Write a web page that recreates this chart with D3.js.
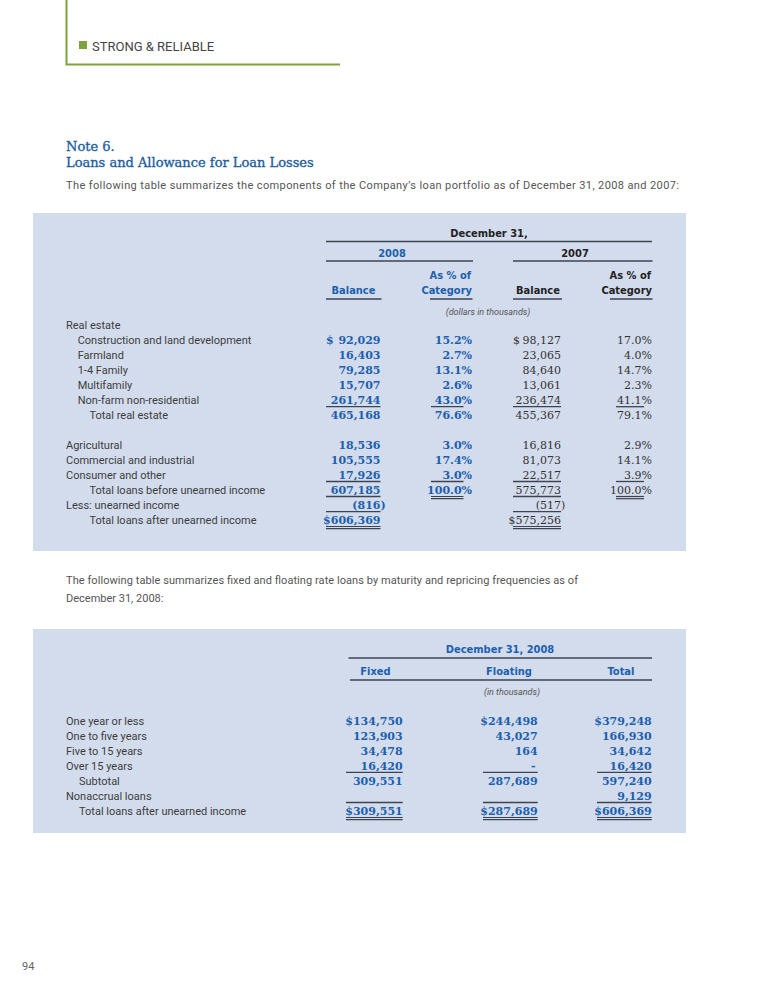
<!DOCTYPE html>
<html>
<head>
<meta charset="utf-8">
<script src="https://cdn.jsdelivr.net/npm/d3@7"></script>
<style>
  body { margin: 0; background: #fff; }
  .lbl { font-family: Roboto, "Liberation Sans", sans-serif; font-size: 11px; fill: #3c3c3c; }
  .hd { font-family: "Liberation Sans Narrow", "DejaVu Sans Condensed", sans-serif; font-weight: bold; font-size: 11px; }
  .num { font-family: "DejaVu Serif", serif; }
  .b { font-weight: bold; font-size: 11px; fill: #1c60ad; }
  .r { font-size: 11px; fill: #333; }
</style>
</head>
<body>
<script>
// ---- data: table 1 (dollars in thousands) ----
var rows1 = ["Real estate", "Construction and land development", "Farmland", "1-4 Family", "Multifamily",
  "Non-farm non-residential", "Total real estate", "", "Agricultural", "Commercial and industrial",
  "Consumer and other", "Total loans before unearned income", "Less: unearned income",
  "Total loans after unearned income"];
var indent1 = [0, 1, 1, 1, 1, 1, 2, 0, 0, 0, 0, 2, 0, 2];
var bal2008 = [null, 92029, 16403, 79285, 15707, 261744, 465168, null, 18536, 105555, 17926, 607185, -816, 606369];
var pct2008 = [null, 15.2, 2.7, 13.1, 2.6, 43.0, 76.6, null, 3.0, 17.4, 3.0, 100.0, null, null];
var bal2007 = [null, 98127, 23065, 84640, 13061, 236474, 455367, null, 16816, 81073, 22517, 575773, -517, 575256];
var pct2007 = [null, 17.0, 4.0, 14.7, 2.3, 41.1, 79.1, null, 2.9, 14.1, 3.9, 100.0, null, null];

// ---- data: table 2 (in thousands) ----
var rows2 = ["One year or less", "One to five years", "Five to 15 years", "Over 15 years", "Subtotal",
  "Nonaccrual loans", "Total loans after unearned income"];
var indent2 = [0, 0, 0, 0, 1, 0, 1];
var fixedLoans = [134750, 123903, 34478, 16420, 309551, null, 309551];
var floatingLoans = [244498, 43027, 164, 0, 287689, null, 287689];
var totalLoans = [379248, 166930, 34642, 16420, 597240, 9129, 606369];

var blue = "#1c60ad", green = "#7da33c", rule = "#3d4350";
var fmt = d3.format(",");

var svg = d3.select("body").append("svg").attr("width", 765).attr("height", 990);

// page header
svg.append("path").attr("d", "M66.5,0V64.5H340").attr("fill", "none").attr("stroke", green).attr("stroke-width", 2);
svg.append("rect").attr("x", 79).attr("y", 41).attr("width", 8).attr("height", 8).attr("fill", green);
svg.append("text").attr("class", "lbl").attr("x", 92).attr("y", 50.5).style("font-size", "13px").style("fill", "#444")
  .text("STRONG & RELIABLE");

// title
[["Note 6.", 151], ["Loans and Allowance for Loan Losses", 166.5]].forEach(function(t) {
  svg.append("text").attr("x", 66).attr("y", t[1]).attr("fill", "#1d5d9e")
    .attr("stroke", "#1d5d9e").attr("stroke-width", 0.35)
    .style("font-family", "'DejaVu Serif', serif").style("font-size", "13px").text(t[0]);
});

svg.append("text").attr("class", "lbl").attr("x", 66).attr("y", 189).style("fill", "#555")
  .attr("textLength", 613).attr("lengthAdjust", "spacing")
  .text("The following table summarizes the components of the Company\u2019s loan portfolio as of December 31, 2008 and 2007:");

// panels
svg.append("rect").attr("x", 33).attr("y", 213).attr("width", 653).attr("height", 338).attr("fill", "#d3dced");
svg.append("rect").attr("x", 33).attr("y", 629).attr("width", 653).attr("height", 204).attr("fill", "#d3dced");

function hline(x1, x2, y, w) {
  svg.append("line").attr("x1", x1).attr("x2", x2).attr("y1", y).attr("y2", y)
    .attr("stroke", rule).attr("stroke-width", w || 1.3);
}
function dline(x1, x2, y) { hline(x1, x2, y, 1.2); hline(x1, x2, y + 2.2, 1.2); }

// ---- table 1 ----
var y1 = d3.scaleLinear().domain([0, 1]).range([328.5, 343.5]);
var col1 = d3.scaleOrdinal().domain(["b08", "p08", "b07", "p07"]).range([380.5, 472, 561, 652]);
var left1 = d3.scaleOrdinal().domain(["b08", "p08", "b07", "p07"]).range([326, 431, 513, 616]);
var ulEnd1 = { b08: 380.5, p08: 463.5, b07: 561, p07: 644 };

svg.append("text").attr("class", "hd").attr("x", 489).attr("y", 237).attr("text-anchor", "middle").attr("fill", "#222").text("December 31,");
hline(326, 652, 241.5);
svg.append("text").attr("class", "hd").attr("x", 392).attr("y", 256.5).attr("text-anchor", "middle").attr("fill", blue).text("2008");
svg.append("text").attr("class", "hd").attr("x", 575).attr("y", 256.5).attr("text-anchor", "middle").attr("fill", "#222").text("2007");
hline(326, 473, 261);
hline(513, 652.5, 261);
[["b08", blue], ["p08", blue], ["b07", "#222"], ["p07", "#222"]].forEach(function(c) {
  var k = c[0];
  if (k[0] === "p") {
    svg.append("text").attr("class", "hd").attr("x", col1(k) - 1).attr("y", 279).attr("text-anchor", "end").attr("fill", c[1]).text("As % of");
    svg.append("text").attr("class", "hd").attr("x", col1(k)).attr("y", 294).attr("text-anchor", "end").attr("fill", c[1]).text("Category");
    hline(col1(k) - 42, col1(k) + 0.5, 299);
  } else {
    svg.append("text").attr("class", "hd").attr("x", k === "b08" ? 353.5 : 538).attr("y", 294).attr("text-anchor", "middle").attr("fill", c[1]).text("Balance");
    hline(left1(k), col1(k) + 1, 299);
  }
});
svg.append("text").attr("class", "lbl").attr("x", 488).attr("y", 315).attr("text-anchor", "middle")
  .style("font-size", "9px").style("font-style", "italic").style("fill", "#555").text("(dollars in thousands)");

var g1 = svg.append("g");
g1.selectAll("text.row").data(rows1).enter().append("text").attr("class", "lbl row")
  .attr("x", function(d, i) { return 66 + indent1[i] * 11.7; })
  .attr("y", function(d, i) { return y1(i); })
  .text(function(d) { return d; });

function money(g, vals, colX, leftX, cls, last) {
  vals.forEach(function(v, i) {
    if (v === null) return;
    var y = y1(i);
    if (v < 0) {
      g.append("text").attr("class", "num " + cls).attr("x", colX).attr("y", y).attr("text-anchor", "end").text("(" + fmt(-v));
      g.append("text").attr("class", "num " + cls).attr("x", colX).attr("y", y).text(")");
    } else if (i === 1) {
      g.append("text").attr("class", "num " + cls).attr("x", leftX).attr("y", y).text("$");
      g.append("text").attr("class", "num " + cls).attr("x", colX).attr("y", y).attr("text-anchor", "end").text(fmt(v));
    } else {
      g.append("text").attr("class", "num " + cls).attr("x", colX).attr("y", y).attr("text-anchor", "end")
        .text((i === last ? "$" : "") + fmt(v));
    }
  });
}
money(g1, bal2008, col1("b08"), left1("b08"), "b", 13);
money(g1, bal2007, col1("b07"), left1("b07"), "r", 13);
[[pct2008, "p08", "b"], [pct2007, "p07", "r"]].forEach(function(p) {
  p[0].forEach(function(v, i) {
    if (v === null) return;
    g1.append("text").attr("class", "num " + p[2]).attr("x", col1(p[1])).attr("y", y1(i))
      .attr("text-anchor", "end").text(v.toFixed(1) + "%");
  });
});

// rules in table 1
["b08", "p08", "b07", "p07"].forEach(function(k) {
  hline(left1(k), ulEnd1[k], y1(5) + 3.2);
  hline(left1(k), ulEnd1[k], y1(10) + 3);
  if (k[0] === "b") {
    hline(left1(k), ulEnd1[k], y1(11) + 3);
    hline(left1(k), ulEnd1[k], y1(12) + 3.2);
    dline(left1(k), ulEnd1[k], y1(13) + 3);
  } else {
    dline(left1(k), ulEnd1[k], y1(11) + 3);
  }
});

// paragraph 2
svg.append("text").attr("class", "lbl").attr("x", 66).attr("y", 584).style("fill", "#555")
  .attr("textLength", 512).attr("lengthAdjust", "spacing")
  .text("The following table summarizes fixed and floating rate loans by maturity and repricing frequencies as of");
svg.append("text").attr("class", "lbl").attr("x", 66).attr("y", 602).style("fill", "#555")
  .text("December 31, 2008:");

// ---- table 2 ----
var y2 = d3.scaleLinear().domain([0, 1]).range([724.5, 739.5]);
var col2 = d3.scaleOrdinal().domain(["fx", "fl", "tt"]).range([402.7, 537.7, 651.7]);
var left2 = d3.scaleOrdinal().domain(["fx", "fl", "tt"]).range([346, 483, 597]);

svg.append("text").attr("class", "hd").attr("x", 500).attr("y", 653).attr("text-anchor", "middle").attr("fill", blue).text("December 31, 2008");
hline(348.5, 652, 658);
[["Fixed", 375.5], ["Floating", 509], ["Total", 621]].forEach(function(h) {
  svg.append("text").attr("class", "hd").attr("x", h[1]).attr("y", 675).attr("text-anchor", "middle").attr("fill", blue).text(h[0]);
});
hline(350, 652, 680);
svg.append("text").attr("class", "lbl").attr("x", 512).attr("y", 694.5).attr("text-anchor", "middle")
  .style("font-size", "9px").style("font-style", "italic").style("fill", "#555").text("(in thousands)");

var g2 = svg.append("g");
g2.selectAll("text.row").data(rows2).enter().append("text").attr("class", "lbl row")
  .attr("x", function(d, i) { return 66 + indent2[i] * 13; })
  .attr("y", function(d, i) { return y2(i); })
  .text(function(d) { return d; });

[[fixedLoans, "fx"], [floatingLoans, "fl"], [totalLoans, "tt"]].forEach(function(c) {
  c[0].forEach(function(v, i) {
    if (v === null) return;
    var s = v === 0 ? "-" : ((i === 0 || i === 6) ? "$" : "") + fmt(v);
    g2.append("text").attr("class", "num b").attr("x", col2(c[1]) - (v === 0 ? 2 : 0)).attr("y", y2(i))
      .attr("text-anchor", "end").text(s);
  });
  hline(left2(c[1]), col2(c[1]), y2(3) + 2.8);
  hline(left2(c[1]), col2(c[1]), y2(5) + 3);
  dline(left2(c[1]), col2(c[1]), y2(6) + 3);
});

// page number
svg.append("text").attr("class", "lbl").attr("x", 22).attr("y", 970).style("font-size", "11px").style("fill", "#666").text("94");
</script>
</body>
</html>
